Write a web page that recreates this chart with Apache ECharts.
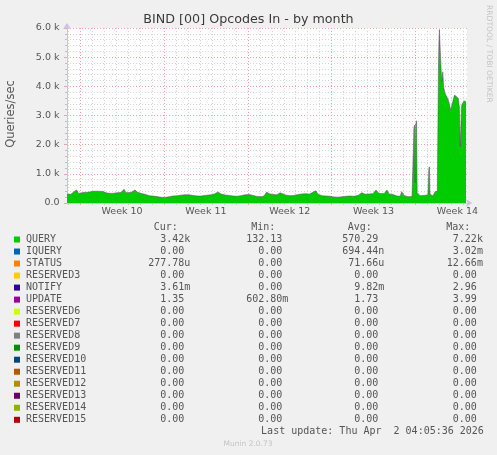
<!DOCTYPE html>
<html><head><meta charset="utf-8">
<script src="https://cdn.jsdelivr.net/npm/echarts@6/dist/echarts.min.js"></script>
<style>html,body{margin:0;padding:0;background:#f0f0f0}#c{width:497px;height:455px}</style>
</head><body><div id="c"></div>
<script>
// time in days since the left edge of the graph
const times = [
  0.00,0.33,0.58,0.81,0.96,1.11,1.34,1.75,2.17,2.59,
  3.01,3.34,3.76,4.17,4.51,4.76,4.93,5.34,5.68,5.85,
  6.18,6.51,6.85,7.18,7.51,7.85,8.18,8.52,8.85,9.19,
  9.52,9.85,10.19,10.52,10.86,11.19,11.52,12.02,12.27,12.61,
  12.86,13.19,13.53,13.86,14.20,14.53,14.86,15.20,15.53,15.87,
  16.20,16.45,16.68,16.87,17.20,17.53,17.79,17.95,18.29,18.62,
  18.95,19.29,19.62,19.96,20.21,20.79,20.96,21.29,21.63,21.96,
  22.29,22.63,22.96,23.30,23.63,23.96,24.30,24.63,24.88,25.22,
  25.55,25.80,26.05,26.47,26.72,26.89,27.22,27.56,27.81,27.95,
  28.14,28.47,28.81,28.93,28.97,29.03,29.07,29.12,29.19,29.24,
  29.29,29.48,29.81,30.14,30.21,30.26,30.31,30.56,30.73,30.85,
  30.92,31.02,31.06,31.10,31.14,31.19,31.29,31.38,31.44,31.56,
  31.84,32.04,32.21,32.36,32.48,32.67,32.76,32.84,32.92,32.96,
  33.15,33.32
];
// QUERY queries/sec
const query = [
  297,300,390,445,330,275,360,370,400,405,
  395,340,330,350,360,470,355,360,445,380,
  330,300,250,240,220,195,190,215,240,250,
  270,285,280,260,240,240,260,280,300,380,
  310,275,260,240,235,250,280,290,260,225,
  215,240,377,320,290,285,350,320,270,250,
  260,290,310,320,300,420,300,250,240,230,
  210,200,215,230,240,230,260,355,300,310,
  320,445,330,320,445,310,290,240,230,390,
  260,215,220,240,2600,2670,700,2700,2820,350,
  300,250,260,280,1150,1240,300,240,390,350,
  400,4800,5600,5950,5500,5000,4160,4500,4000,3760,
  3530,3190,3470,3700,3760,3590,3300,1930,3000,3360,
  3500,3470
];
const weekLabels = ['Week 10','Week 11','Week 12','Week 13','Week 14'];
const seriesNames = ['QUERY','IQUERY','STATUS','RESERVED3','NOTIFY','UPDATE','RESERVED6','RESERVED7','RESERVED8','RESERVED9','RESERVED10','RESERVED11','RESERVED12','RESERVED13','RESERVED14','RESERVED15'];
const seriesColors = ['#00cc00','#0066b3','#ff8000','#ffcc00','#330099','#990099','#ccff00','#ff0000','#808080','#008f00','#00487d','#b35a00','#b38f00','#6b006b','#8fb300','#b30000'];
const curVals = ['3.42k','0.00','277.78u','0.00','3.61m','1.35','0.00','0.00','0.00','0.00','0.00','0.00','0.00','0.00','0.00','0.00'];
const minVals = ['132.13','0.00','0.00','0.00','0.00','602.80m','0.00','0.00','0.00','0.00','0.00','0.00','0.00','0.00','0.00','0.00'];
const avgVals = ['570.29','694.44n','71.66u','0.00','9.82m','1.73','0.00','0.00','0.00','0.00','0.00','0.00','0.00','0.00','0.00','0.00'];
const maxVals = ['7.22k','3.02m','12.66m','0.00','2.96','3.99','0.00','0.00','0.00','0.00','0.00','0.00','0.00','0.00','0.00','0.00'];
const lastUpdate = 'Last update: Thu Apr  2 04:05:36 2026';

// grid scaffolding: 0.1-day steps across the 33.4-day span
const SPAN = 33.4, STEPS = 334, WEEK0 = 11;
const steps = [];
for (let i = 0; i <= STEPS; i++) steps.push(String(i));
const isWeek = i => i >= WEEK0 && (i - WEEK0) % 70 === 0;
const isDay = i => (i - WEEK0) % 10 === 0 && !isWeek(i);
const isLabel = i => i >= WEEK0 + 35 && (i - WEEK0 - 35) % 70 === 0;

const SANS = 'DejaVu Sans';
const axisColor = '#c4c4ee';
const majorGrid = '#eba3a3';
const minorGrid = '#d6d6d6';

const graphic = [];
graphic.push({type:'text', x:248.5, y:19.5, silent:true,
  style:{text:'BIND [00] Opcodes In - by month', font:'12.7px "DejaVu Sans"', fill:'#3a3a3a', align:'center', verticalAlign:'middle'}});
graphic.push({type:'text', x:11, y:114, rotation:Math.PI/2, silent:true,
  style:{text:'Queries/sec', font:'11.5px "DejaVu Sans"', fill:'#555', align:'center', verticalAlign:'middle'}});
graphic.push({type:'text', x:488.5, y:5, rotation:-Math.PI/2, silent:true,
  style:{text:'RRDTOOL / TOBI OETIKER', font:'7.6px "DejaVu Sans"', fill:'#c4c4c4', align:'left', verticalAlign:'middle'}});

const CW = 6.02;
const colRight = [190.3, 288.3, 384.3, 482.9];
const headX = [153.8, 251.2, 347.8, 446.2];
const heads = ['Cur:','Min:','Avg:','Max:'];
const monoFont = '10px "DejaVu Sans Mono"';
const textCol = '#555';
heads.forEach((h, k) => graphic.push({type:'text', x:headX[k], y:227.5, silent:true,
  style:{text:h, font:monoFont, fill:textCol, align:'left', verticalAlign:'middle'}}));
const cols = [curVals, minVals, avgVals, maxVals];
seriesNames.forEach((name, r) => {
  const cy = 239.5 + 12.02 * r;
  graphic.push({type:'rect', silent:true, shape:{x:14, y:cy - 3, width:6, height:6}, style:{fill:seriesColors[r]}});
  graphic.push({type:'text', x:26, y:cy, silent:true,
    style:{text:name, font:monoFont, fill:textCol, align:'left', verticalAlign:'middle'}});
  cols.forEach((col, k) => {
    const s = col[r];
    const hasUnit = /[a-zA-Z]$/.test(s);
    graphic.push({type:'text', x: colRight[k] - (hasUnit ? 0 : CW), y:cy, silent:true,
      style:{text:s, font:monoFont, fill:textCol, align:'right', verticalAlign:'middle'}});
  });
});
graphic.push({type:'text', x:261.1, y:431.5, silent:true,
  style:{text:lastUpdate, font:monoFont, fill:textCol, align:'left', verticalAlign:'middle'}});
graphic.push({type:'text', x:248, y:444, silent:true,
  style:{text:'Munin 2.0.73', font:'7.5px "DejaVu Sans"', fill:'#c4c4c4', align:'center', verticalAlign:'middle'}});

const chart = echarts.init(document.getElementById('c'), null, {renderer:'canvas'});
chart.setOption({
  animation:false,
  backgroundColor:'#f0f0f0',
  grid:{left:67, right:30, top:28, bottom:252, show:true, backgroundColor:'#ffffff', borderWidth:0, containLabel:false},
  xAxis:[
    {type:'value', min:0, max:SPAN, position:'bottom',
     axisLine:{show:true, onZero:false, lineStyle:{color:axisColor, width:1}, symbol:['none','arrow'], symbolSize:[6,6], symbolOffset:[0,5]},
     axisTick:{show:false}, axisLabel:{show:false}, splitLine:{show:false}},
    {type:'category', data:steps, boundaryGap:false, position:'bottom',
     axisLine:{show:false}, axisLabel:{show:false},
     axisTick:{show:true, interval:isDay, length:2, lineStyle:{color:'#c8c8c8'}},
     splitLine:{show:true, interval:isDay, lineStyle:{color:minorGrid, type:[1,2], width:1}}},
    {type:'category', data:steps, boundaryGap:false, position:'bottom',
     axisLine:{show:false},
     axisTick:{show:true, interval:isWeek, length:2, lineStyle:{color:majorGrid}},
     axisLabel:{show:true, interval:isLabel, margin:4, color:'#555', fontFamily:SANS, fontSize:9.5,
       formatter:(v, idx) => weekLabels[Math.round((Number(v) - WEEK0 - 35) / 70)] || ''},
     splitLine:{show:true, interval:isWeek, lineStyle:{color:majorGrid, type:[1,2], width:1}}}
  ],
  yAxis:{type:'value', min:0, max:6000, interval:1000,
    axisLine:{show:true, lineStyle:{color:axisColor, width:1}, symbol:['none','arrow'], symbolSize:[6,6], symbolOffset:[0,5]},
    axisTick:{show:true, length:3, lineStyle:{color:majorGrid}},
    minorTick:{show:true, splitNumber:5, length:2, lineStyle:{color:'#bdbdbd'}},
    axisLabel:{margin:7.5, color:'#555', fontFamily:SANS, fontSize:9.5,
      formatter:v => v === 0 ? '0.0' : (v / 1000).toFixed(1) + ' k'},
    splitLine:{show:true, lineStyle:{color:majorGrid, type:[1,2], width:1}},
    minorSplitLine:{show:true, lineStyle:{color:minorGrid, type:[1,2], width:1}}},
  series:[{
    name:'QUERY', type:'line', xAxisIndex:0, yAxisIndex:0, z:3,
    data: times.map((t, i) => [t, query[i]]),
    showSymbol:false, symbol:'none',
    lineStyle:{color:'#6e3574', width:1, opacity:0.5},
    areaStyle:{color:'#00cc00', opacity:1}
  }],
  graphic: graphic
});
</script></body></html>
